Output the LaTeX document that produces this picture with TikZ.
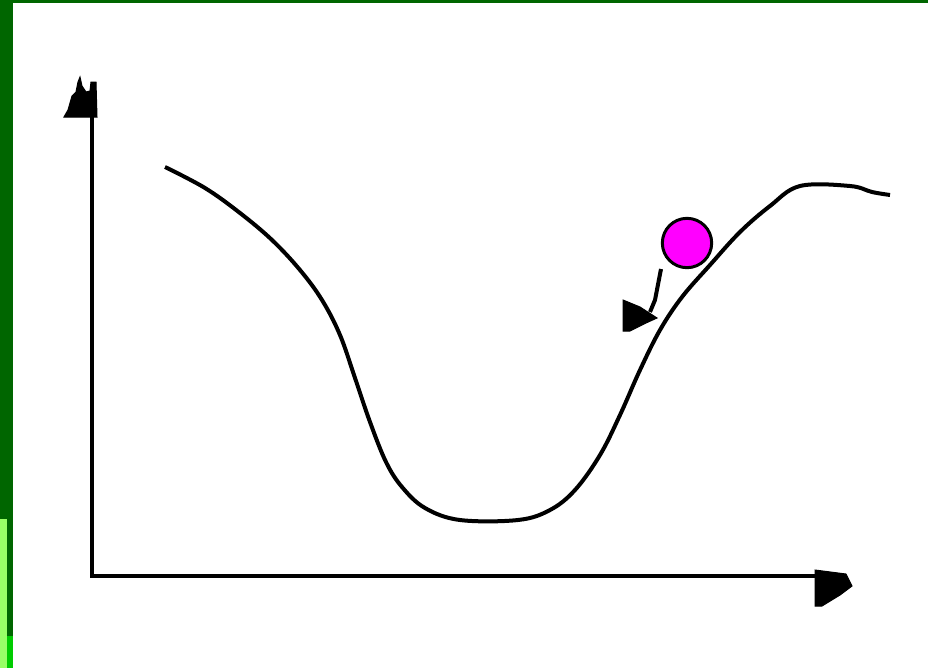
\documentclass[tikz,border=0pt]{standalone}
\begin{document}
\begin{tikzpicture}[x=0.03cm,y=-0.03cm,
  axis/.style={draw=black,line width=0.13cm},
  curve/.style={draw=black,line width=0.12cm,line join=round},
  tipfill/.style={fill=black,draw=black,line width=0.03cm}]
\definecolor{dkgreen}{RGB}{0,102,0}
\definecolor{ltgreen}{RGB}{153,255,102}
\definecolor{brgreen}{RGB}{0,204,0}
\definecolor{ballcol}{RGB}{255,0,255}
\useasboundingbox (0,0) rectangle (928,668);
\fill[white] (0,0) rectangle (928,668);
% frame strips
\fill[dkgreen] (0,0) rectangle (928,3);
\fill[dkgreen] (0,0) rectangle (13,668);
\fill[ltgreen] (0,519) rectangle (7,668);
\fill[brgreen] (7,636) rectangle (13,668);
% axes
\coordinate (o) at (92,576);
\coordinate (ytop) at (92,112);
\coordinate (xend) at (818,576);
\draw[axis] (ytop) -- (o) -- (xend);
\fill[tipfill] (64,117) -- (68,110) -- (72,96) -- (76,92) -- (78,82) -- (80,77) -- (82,86) -- (86,92) -- (90,91) -- (91,82) -- (96,82) -- (97,117) -- cycle;
\fill[tipfill] (815,570) -- (846,574) -- (852,586) -- (840,595) -- (822,606) -- (815,606) -- cycle;
% potential curve
\draw[curve] plot[smooth,tension=0.6] coordinates {(165,167) (205,188) (240,213) (272,240) (300,270) (322,300) (340,335) (355,378) (370,422) (386,462) (402,487) (425,508) (460,520) (518,520) (550,510) (575,490) (600,455) (620,415) (640,370) (660,330) (682,297) (710,265) (740,232) (770,206) (800,186) (850,186) (872,192) (890,195)};
% ball
\node[circle,fill=ballcol,draw=black,line width=0.09cm,minimum size=1.48cm,inner sep=0pt] (ball) at (687,243) {};
% arrow
\coordinate (astart) at (661,269);
\coordinate (aend) at (650,312);
\draw[curve] (astart) -- (655,300) -- (aend);
\fill[tipfill] (623,300) -- (640,307) -- (657,318) -- (646,323) -- (630,331) -- (623,331) -- cycle;
\end{tikzpicture}
\end{document}
